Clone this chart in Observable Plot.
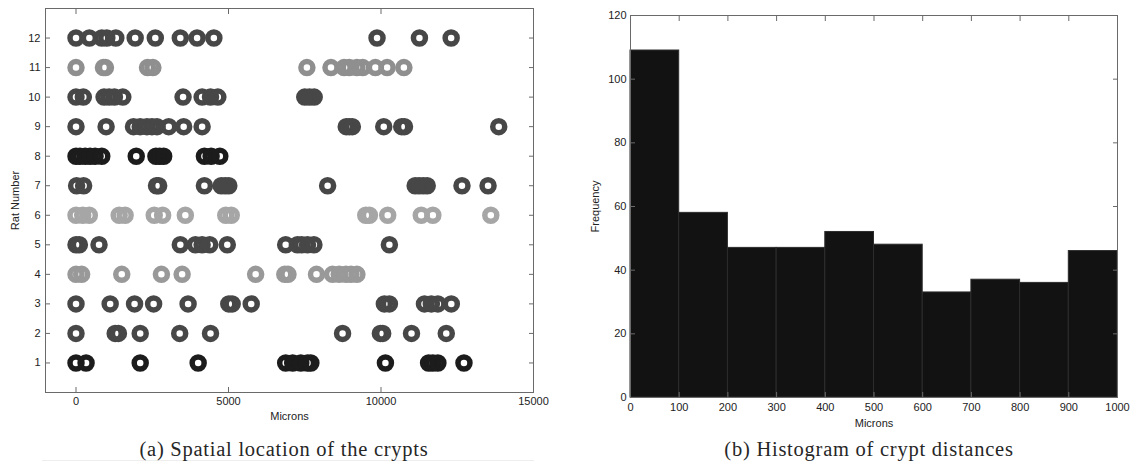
<!DOCTYPE html>
<html><head><meta charset="utf-8">
<script src="https://cdn.jsdelivr.net/npm/d3@7"></script>
<script src="https://cdn.jsdelivr.net/npm/@observablehq/plot@0.6"></script>
<style>
body{margin:0;background:#fff;width:1141px;height:466px;overflow:hidden;position:relative;font-family:"Liberation Sans",Arial,sans-serif}
#a{position:absolute;left:0;top:0}
#b{position:absolute;left:560px;top:0}
.cap{position:absolute;top:438px;font-family:"Liberation Serif","Times New Roman",serif;font-size:20.5px;letter-spacing:0.75px;color:#262626;white-space:nowrap;transform:translateX(-50%);line-height:22px}
</style></head><body>
<div style="position:absolute;left:42px;width:492px;top:460px;border-top:1px solid #eee"></div>
<div id="a"></div><div id="b"></div>
<div class="cap" style="left:284px">(a) Spatial location of the crypts</div>
<div class="cap" style="left:869px">(b) Histogram of crypt distances</div>
<script>
// ---- Panel (a): crypt locations per rat (microns) ----
const ratNumbers = [1,2,3,4,5,6,7,8,9,10,11,12];
const ratColors = ["#1c1c1c","#474747","#474747","#999999","#474747","#a6a6a6","#474747","#1c1c1c","#474747","#474747","#8f8f8f","#474747"];
const rat1 = [0, 330, 2105, 4005, 6875, 7105, 7370, 7590, 7700, 10145, 11560, 11700, 11865, 12720];
const rat2 = [0, 1285, 1390, 2105, 3400, 4410, 8740, 9980, 10055, 11000, 12140];
const rat3 = [0, 1120, 1920, 2545, 3675, 5010, 5120, 5745, 10110, 10275, 11425, 11650, 11865, 12305];
const rat4 = [0, 185, 1500, 2800, 3480, 5890, 6845, 6950, 7885, 8410, 8630, 8850, 9015, 9210];
const rat5 = [0, 110, 755, 3420, 3915, 4135, 4385, 4960, 6875, 7260, 7400, 7590, 7800, 10275];
const rat6 = [0, 220, 437, 1415, 1610, 2565, 2840, 3585, 4910, 5090, 9500, 9620, 10220, 11320, 11700, 13600];
const rat7 = [20, 250, 2640, 2710, 4210, 4760, 4890, 5010, 8250, 11120, 11250, 11385, 11515, 12655, 13510];
const rat8 = [0, 130, 300, 460, 625, 845, 1975, 2620, 2745, 2875, 4210, 4430, 4715];
const rat9 = [0, 987, 1885, 2105, 2325, 2490, 2655, 3040, 3530, 4135, 8860, 8960, 9060, 10090, 10680, 10770, 13860];
const rat10 = [0, 240, 920, 1085, 1260, 1535, 3510, 4135, 4410, 4650, 7500, 7655, 7810];
const rat11 = [0, 900, 965, 2345, 2520, 7570, 8360, 8790, 8960, 9210, 9400, 9815, 10200, 10750];
const rat12 = [0, 438, 845, 1010, 1305, 1940, 2600, 3420, 3970, 4520, 9870, 11260, 12300];
const xTicksA = [0, 5000, 10000, 15000];

// ---- Panel (b): histogram of crypt distances ----
const binEdges = [0, 100, 200, 300, 400, 500, 600, 700, 800, 900, 1000];
const binCounts = [109, 58, 47, 47, 52, 48, 33, 37, 36, 46];
const xTicksB = [0, 100, 200, 300, 400, 500, 600, 700, 800, 900, 1000];
const yTicksB = [0, 20, 40, 60, 80, 100, 120];

const ratRows = [rat1, rat2, rat3, rat4, rat5, rat6, rat7, rat8, rat9, rat10, rat11, rat12];
const crypts = ratRows.flatMap((row, i) => row.map(v => ({rat: ratNumbers[i], x: v, color: ratColors[i]})));

const axisColor = "#6a6a6a";
const textColor = "#222";

const chartA = Plot.plot({
  width: 560, height: 430,
  marginLeft: 45, marginRight: 27, marginTop: 8, marginBottom: 38,
  style: {fontFamily: "'Liberation Sans', Arial, sans-serif", fontSize: "11px", color: textColor, background: "transparent"},
  x: {domain: [-1000, 15000]},
  y: {domain: [0, 13]},
  marks: [
    Plot.frame({stroke: axisColor}),
    Plot.axisX(xTicksA, {anchor: "bottom", tickSize: -5, stroke: axisColor, fill: "none", label: null}),
    Plot.axisX(xTicksA, {anchor: "top", tickSize: -5, stroke: axisColor, fill: "none", label: null}),
    Plot.axisY(ratNumbers, {anchor: "left", tickSize: -5, stroke: axisColor, fill: "none", label: null}),
    Plot.axisY(ratNumbers, {anchor: "right", tickSize: -5, stroke: axisColor, fill: "none", label: null}),
    Plot.axisX(xTicksA, {anchor: "bottom", tickSize: 0, tickPadding: 5, stroke: "none", fill: textColor, label: "Microns", labelAnchor: "center", labelOffset: 27, labelArrow: "none", tickFormat: d => String(d)}),
    Plot.axisY(ratNumbers, {anchor: "left", tickSize: 0, tickPadding: 5, stroke: "none", fill: textColor, label: "Rat Number", labelAnchor: "center", labelOffset: 34, labelArrow: "none"}),
    Plot.dot(crypts, {x: "x", y: "rat", r: 6, fill: "none", stroke: d => d.color, strokeWidth: 5.5})
  ]
});
document.getElementById("a").appendChild(chartA);

const bins = binCounts.map((c, i) => ({x1: binEdges[i], x2: binEdges[i + 1], count: c}));

const chartB = Plot.plot({
  width: 581, height: 440,
  marginLeft: 70, marginRight: 24, marginTop: 15, marginBottom: 43,
  style: {fontFamily: "'Liberation Sans', Arial, sans-serif", fontSize: "11px", color: textColor, background: "transparent"},
  x: {domain: [0, 1000]},
  y: {domain: [0, 120]},
  marks: [
    Plot.rectY(bins, {x1: "x1", x2: "x2", y: "count", fill: "#121212", stroke: "#2c2c2c", strokeWidth: 1}),
    Plot.frame({stroke: axisColor}),
    Plot.axisX(xTicksB, {anchor: "bottom", tickSize: -5, stroke: axisColor, fill: "none", label: null}),
    Plot.axisX(xTicksB, {anchor: "top", tickSize: -5, stroke: axisColor, fill: "none", label: null}),
    Plot.axisY(yTicksB, {anchor: "left", tickSize: -5, stroke: axisColor, fill: "none", label: null}),
    Plot.axisY(yTicksB, {anchor: "right", tickSize: -5, stroke: axisColor, fill: "none", label: null}),
    Plot.axisX(xTicksB, {anchor: "bottom", tickSize: 0, tickPadding: 6, stroke: "none", fill: textColor, label: "Microns", labelAnchor: "center", labelOffset: 29, labelArrow: "none", tickFormat: d => String(d)}),
    Plot.axisY(yTicksB, {anchor: "left", tickSize: 0, tickPadding: 4, stroke: "none", fill: textColor, label: "Frequency", labelAnchor: "center", labelOffset: 39, labelArrow: "none"})
  ]
});
document.getElementById("b").appendChild(chartB);
</script>
</body></html>
